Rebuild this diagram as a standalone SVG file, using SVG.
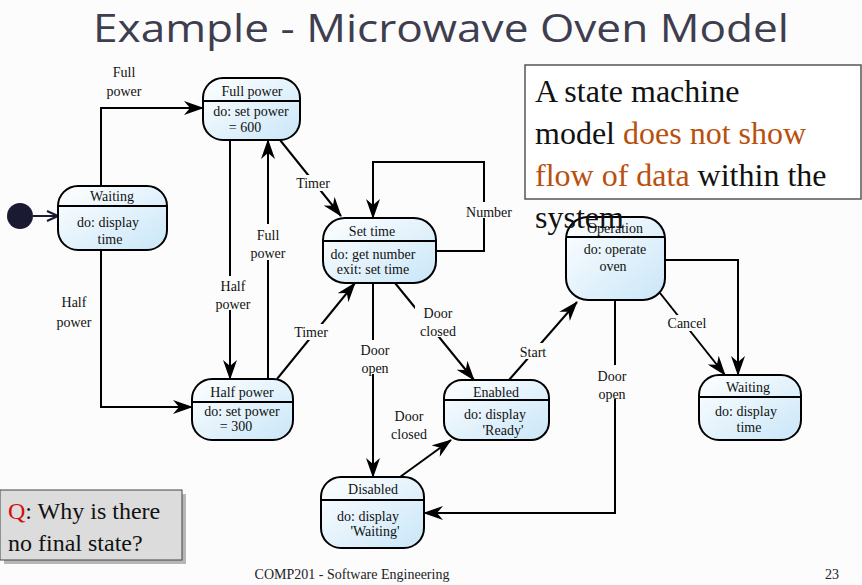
<svg xmlns="http://www.w3.org/2000/svg" width="862" height="585" viewBox="0 0 862 585">
<defs>
<linearGradient id="g" x1="0" y1="0" x2="1" y2="1">
<stop offset="0" stop-color="#ffffff"/>
<stop offset="1" stop-color="#c9e6f8"/>
</linearGradient>
<marker id="a" markerUnits="userSpaceOnUse" markerWidth="20" markerHeight="14" refX="19" refY="7" orient="auto">
<path d="M0,0 L20,7 L0,14 L6,7 z" fill="#000"/>
</marker>
<marker id="o" markerUnits="userSpaceOnUse" markerWidth="14" markerHeight="12" refX="12" refY="6" orient="auto">
<path d="M1,1 L12,6 L1,11" fill="none" stroke="#1a1a33" stroke-width="2"/>
</marker>
<style>
.n rect{fill:url(#g);stroke:#000;stroke-width:2}
.n line{stroke:#000;stroke-width:2}
.n text{font-family:'Liberation Serif',serif;font-size:14px;fill:#111;text-anchor:middle}
.c path{fill:none;stroke:#000;stroke-width:2;marker-end:url(#a)}
.l{font-family:'Liberation Serif',serif;font-size:14px;fill:#111;text-anchor:middle}
.lb{fill:#fcfcfc}
</style>
</defs>
<rect width="862" height="585" fill="#fcfcfc"/>
<text x="441" y="42" text-anchor="middle" font-family="'Open Sans',sans-serif" font-size="38" fill="#3e3e50" textLength="696" lengthAdjust="spacingAndGlyphs">Example - Microwave Oven Model</text>

<g id="connectors" class="c">
<path d="M101,186 V108 H203"/>
<path d="M101,250 V407 H192"/>
<path d="M230,140 V379"/>
<path d="M268,379 V140"/>
<path d="M280,140 L341,216"/>
<path d="M277,379 L355,283"/>
<path d="M436,251 H484 V162 H373 V218"/>
<path d="M373,283 V477"/>
<path d="M395,283 L474,380"/>
<path d="M400,477 L451,440"/>
<path d="M509,380 L577,302"/>
<path d="M615,300 V513 H424"/>
<path d="M665,260 H738 V375"/>
<path d="M660,293 L725,375"/>
<path d="M33,216 H58" style="stroke:#1a1a33;marker-end:url(#o)"/>
</g>
<g id="labels" font-family="'Liberation Serif',serif" font-size="14" text-anchor="middle" fill="#111">
<rect class="lb" x="455" y="202" width="62" height="16"/>
<rect class="lb" x="350" y="340" width="46" height="34"/>
<rect class="lb" x="590" y="365" width="46" height="34"/>
<rect class="lb" x="290" y="175" width="44" height="16"/>
<rect class="lb" x="290" y="324" width="44" height="16"/>
<rect class="lb" x="250" y="224" width="38" height="36"/>
<rect class="lb" x="210" y="276" width="44" height="34"/>
<rect class="lb" x="415" y="303" width="46" height="34"/>
<rect class="lb" x="515" y="343" width="36" height="16"/>
<rect class="lb" x="664" y="315" width="48" height="16"/>
<text x="124" y="77">Full</text><text x="124" y="96">power</text>
<text x="74" y="307">Half</text><text x="74" y="327">power</text>
<text x="233" y="291">Half</text><text x="233" y="309">power</text>
<text x="268" y="240">Full</text><text x="268" y="258">power</text>
<text x="313" y="188">Timer</text>
<text x="311" y="337">Timer</text>
<text x="489" y="217">Number</text>
<text x="375" y="355">Door</text><text x="375" y="373">open</text>
<text x="438" y="318">Door</text><text x="438" y="336">closed</text>
<text x="409" y="421">Door</text><text x="409" y="439">closed</text>
<text x="533" y="357">Start</text>
<text x="612" y="381">Door</text><text x="612" y="399">open</text>
<text x="687" y="328">Cancel</text>
</g>

<g id="initial"><circle cx="20" cy="216" r="13" fill="#1a1a33"/></g>

<g id="waiting1" class="n" font-family="'Liberation Serif',serif"><rect x="58" y="186" width="109" height="64" rx="20"/><line x1="58" y1="206" x2="167" y2="206"/>
<text x="112" y="201">Waiting</text><text x="108" y="227">do: display</text><text x="110" y="244">time</text></g>
<g id="fullpower" class="n" font-family="'Liberation Serif',serif"><rect x="203" y="78" width="97" height="62" rx="20"/><line x1="203" y1="101" x2="300" y2="101"/>
<text x="252" y="96">Full power</text><text x="251" y="116">do: set power</text><text x="245" y="132">= 600</text></g>
<g id="settime" class="n" font-family="'Liberation Serif',serif"><rect x="323" y="218" width="113" height="65" rx="22"/><line x1="323" y1="241" x2="436" y2="241"/>
<text x="372" y="236">Set time</text><text x="373" y="259">do: get number</text><text x="373" y="274">exit: set time</text></g>
<g id="halfpower" class="n" font-family="'Liberation Serif',serif"><rect x="192" y="379" width="101" height="61" rx="20"/><line x1="192" y1="402" x2="293" y2="402"/>
<text x="242" y="397">Half power</text><text x="242" y="416">do: set power</text><text x="236" y="431">= 300</text></g>
<g id="enabled" class="n" font-family="'Liberation Serif',serif"><rect x="444" y="380" width="105" height="60" rx="18"/><line x1="444" y1="400" x2="549" y2="400"/>
<text x="496" y="397">Enabled</text><text x="495" y="419">do: display</text><text x="503" y="435">'Ready'</text></g>
<g id="disabled" class="n" font-family="'Liberation Serif',serif"><rect x="321" y="477" width="103" height="71" rx="20"/><line x1="321" y1="500" x2="424" y2="500"/>
<text x="373" y="494">Disabled</text><text x="368" y="521">do: display</text><text x="375" y="536">'Waiting'</text></g>
<g id="operation" class="n" font-family="'Liberation Serif',serif"><rect x="566" y="217" width="99" height="83" rx="22"/><line x1="566" y1="237" x2="665" y2="237"/>
<text x="615" y="233">Operation</text><text x="615" y="254">do: operate</text><text x="613" y="271">oven</text></g>
<g id="waiting2" class="n" font-family="'Liberation Serif',serif"><rect x="699" y="375" width="102" height="65" rx="20"/><line x1="699" y1="397" x2="801" y2="397"/>
<text x="748" y="392">Waiting</text><text x="746" y="416">do: display</text><text x="749" y="432">time</text></g>

<g id="note">
<rect x="525" y="65" width="336" height="134" fill="#ffffff" stroke="#555" stroke-width="1.5"/>
<g font-family="'Liberation Serif',serif" font-size="32" fill="#111">
<text x="535" y="102">A state machine</text>
<text x="535" y="144">model <tspan fill="#b9500e">does not show</tspan></text>
<text x="535" y="186"><tspan fill="#b9500e">flow of data</tspan> within the</text>
<text x="535" y="228">system</text>
</g>
</g>

<g id="question">
<rect x="4" y="494" width="182" height="70" fill="#888" opacity="0.6"/>
<rect x="0" y="490" width="182" height="70" fill="#dcdcdc" stroke="#444" stroke-width="1"/>
<g font-family="'Liberation Serif',serif" font-size="24" fill="#111">
<text x="8" y="519"><tspan fill="#d01010">Q</tspan>: Why is there</text>
<text x="8" y="551">no final state?</text>
</g>
</g>

<text x="352" y="579" text-anchor="middle" font-family="'Liberation Serif',serif" font-size="14" fill="#222">COMP201 - Software Engineering</text>
<text x="832" y="579" text-anchor="middle" font-family="'Liberation Serif',serif" font-size="14" fill="#222">23</text>
</svg>
